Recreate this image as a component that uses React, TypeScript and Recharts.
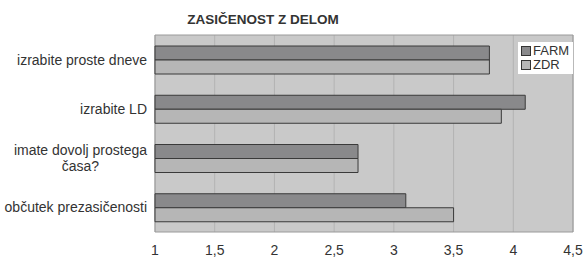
import { BarChart, Bar, XAxis, YAxis, CartesianGrid, Legend, ReferenceArea } from 'recharts';

const categories = [
  'izrabite proste dneve',
  'izrabite LD',
  'imate dovolj prostega časa?',
  'občutek prezasičenosti',
];
const farm = [3.8, 4.1, 2.7, 3.1];
const zdr = [3.8, 3.9, 2.7, 3.5];
const xTicks = [1, 1.5, 2, 2.5, 3, 3.5, 4, 4.5];

const data = categories.map((name, i) => ({ name, FARM: farm[i], ZDR: zdr[i] }));

const FONT = '"Liberation Sans", Arial, sans-serif';
const TEXT = '#333333';
const LABEL_SIZE = 14;

let ctx: CanvasRenderingContext2D | null = null;
function measure(s: string) {
  if (!ctx) ctx = document.createElement('canvas').getContext('2d');
  if (!ctx) return s.length * 7;
  ctx.font = `${LABEL_SIZE}px ${FONT}`;
  return ctx.measureText(s).width;
}

function CategoryTick(props: any) {
  const { x, y, payload } = props;
  const label: string = payload.value;
  if (label.length <= 22) {
    return (
      <text x={x} y={y} dy="0.35em" textAnchor="end" fontSize={LABEL_SIZE} fontFamily={FONT} fill={TEXT}>
        {label}
      </text>
    );
  }
  const cut = label.lastIndexOf(' ');
  const first = label.slice(0, cut);
  const second = label.slice(cut + 1);
  const mid = x - measure(first) / 2;
  return (
    <g>
      <text x={x} y={y - 8} dy="0.35em" textAnchor="end" fontSize={LABEL_SIZE} fontFamily={FONT} fill={TEXT}>
        {first}
      </text>
      <text x={mid} y={y + 8} dy="0.35em" textAnchor="middle" fontSize={LABEL_SIZE} fontFamily={FONT} fill={TEXT}>
        {second}
      </text>
    </g>
  );
}

function LegendBox(props: any) {
  const items = props.payload || [];
  return (
    <div style={{ background: '#fff', padding: '2px 3px', fontFamily: FONT, fontSize: 13, color: TEXT, lineHeight: '14px' }}>
      {items.map((it: any) => (
        <div key={it.value} style={{ display: 'flex', alignItems: 'center' }}>
          <span style={{ width: 8, height: 8, background: it.color, border: '1px solid #333', marginRight: 2, display: 'inline-block' }} />
          {it.value}
        </div>
      ))}
    </div>
  );
}

export default function App() {
  return (
    <div style={{ position: 'absolute', left: 0, top: 0, width: 587, height: 258, background: '#fff' }}>
      <div
        style={{
          position: 'absolute',
          top: 12,
          left: 0,
          width: 526,
          textAlign: 'center',
          fontFamily: FONT,
          fontWeight: 'bold',
          fontSize: 13.5,
          color: TEXT,
        }}
      >
        ZASIČENOST Z DELOM
      </div>
      <BarChart
        width={587}
        height={258}
        data={data}
        layout="vertical"
        margin={{ top: 35, right: 14, bottom: 2, left: 0 }}
        barSize={14}
        barGap={0}
      >
        <CartesianGrid horizontal={false} stroke="#b3b3b3" fill="#c9c9c9" />
        <XAxis
          type="number"
          domain={[1, 4.5]}
          ticks={xTicks}
          tickFormatter={(v: number) => String(v).replace('.', ',')}
          axisLine={false}
          tickLine={false}
          tick={{ fontSize: 14, fontFamily: FONT, fill: TEXT }}
          tickMargin={7}
          height={24}
        />
        <YAxis
          type="category"
          dataKey="name"
          width={155}
          axisLine={false}
          tickLine={false}
          tick={<CategoryTick />}
        />
        <ReferenceArea x1={1} x2={4.5} fill="none" stroke="#9a9a9a" strokeWidth={1} ifOverflow="extendDomain" />
        <Legend
          layout="horizontal"
          verticalAlign="middle"
          align="center"
          content={<LegendBox />}
          wrapperStyle={{ position: 'absolute', top: 42, left: 518, width: 55 }}
        />
        <Bar dataKey="FARM" fill="#89898b" stroke="#3a3a3a" strokeWidth={1} isAnimationActive={false} />
        <Bar dataKey="ZDR" fill="#b6b6b6" stroke="#3a3a3a" strokeWidth={1} isAnimationActive={false} />
      </BarChart>
    </div>
  );
}
